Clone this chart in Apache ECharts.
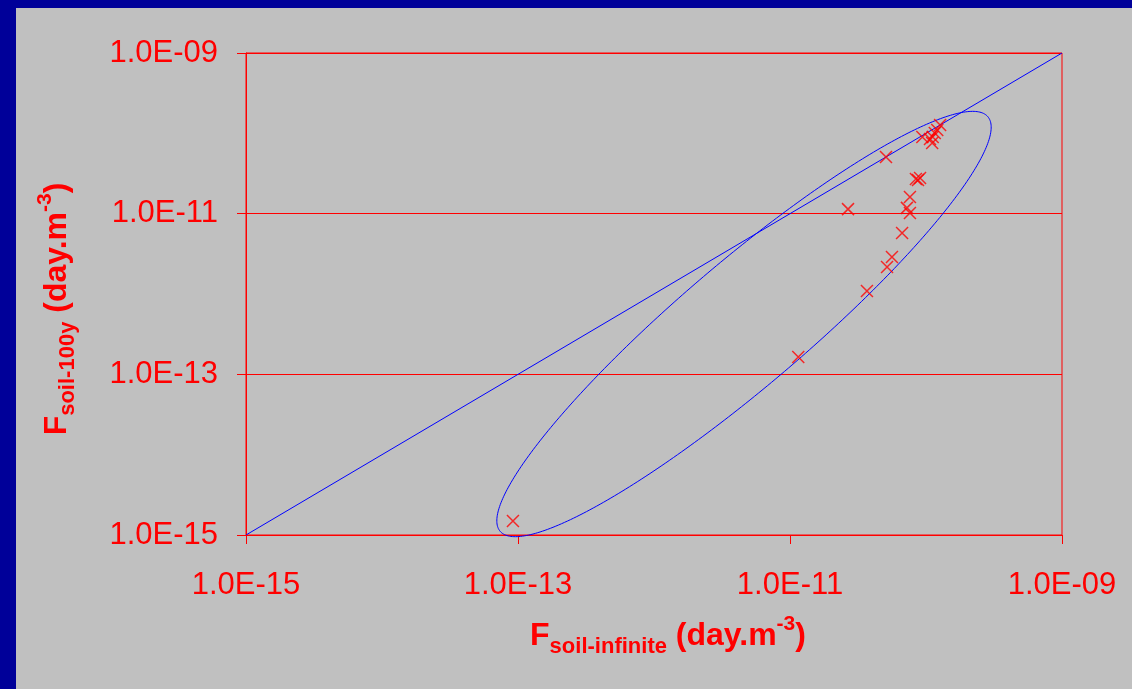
<!DOCTYPE html>
<html>
<head>
<meta charset="utf-8">
<script src="https://cdn.jsdelivr.net/npm/echarts@6/dist/echarts.min.js"></script>
<style>
html,body{margin:0;padding:0;background:#C0C0C0;}
#chart{width:1132px;height:689px;}
</style>
</head>
<body>
<div id="chart"></div>
<script>
// Scatter data: F_soil-infinite (x) vs F_soil-100y (y), day.m^-3
const xValues = [1.27e-10, 1.21e-10, 1.16e-10, 1.12e-10, 1.11e-10, 9.4e-11, 1.07e-10,
                 5.08e-11, 8.73e-11, 9.04e-11, 8.43e-11, 7.62e-11, 7.24e-11, 7.62e-11,
                 2.67e-11, 6.67e-11, 5.62e-11, 5.17e-11, 3.68e-11, 1.15e-11, 9.18e-14];
const yValues = [1.27e-10, 1.10e-10, 1.01e-10, 9.0e-11, 7.6e-11, 9.0e-11, 8.5e-11,
                 5.08e-11, 2.62e-11, 2.78e-11, 2.70e-11, 1.61e-11, 1.18e-11, 1.02e-11,
                 1.14e-11, 5.75e-12, 2.89e-12, 2.17e-12, 1.09e-12, 1.64e-13, 1.49e-15];
// 1:1 reference line
const diagonalX = [1e-15, 1e-9];
const diagonalY = [1e-15, 1e-9];
// Ellipse annotation (data coordinates): centre, end of major semi-axis, end of minor semi-axis
const ellipseCenter = [4.59e-12, 4.23e-13];
const ellipseMajorEnd = [2.85e-10, 1.61e-10];
const ellipseMinorEnd = [9.10e-12, 1.085e-13];
// Axis range and tick labels
const axisMin = 1e-15, axisMax = 1e-9;
const tickLabels = ['1.0E-15', '1.0E-13', '1.0E-11', '1.0E-09'];

const RED = '#FF0000', BLUE = '#0000FF';
const chart = echarts.init(document.getElementById('chart'), null, {renderer: 'canvas'});

function fmt(v) {
  const e = Math.round(Math.log10(v));
  const idx = (e + 15) / 2;
  if (Number.isInteger(idx) && tickLabels[idx]) return tickLabels[idx];
  return '';
}

const axisCommon = {
  type: 'log',
  logBase: 10,
  min: axisMin,
  max: axisMax,
  interval: 2,
  axisLine: {show: true, onZero: false, lineStyle: {color: RED, width: 1}},
  axisTick: {show: true, inside: false, length: 9, lineStyle: {color: RED, width: 1}},
  minorTick: {show: false},
  axisLabel: {color: RED, fontFamily: 'Liberation Sans, Arial, sans-serif', fontSize: 31, formatter: fmt}
};

const scatterData = xValues.map((x, i) => [x, yValues[i]]);
const diagData = diagonalX.map((x, i) => [x, diagonalY[i]]);

const titleFont = 'Liberation Sans, Arial, sans-serif';
const richTitle = {
  a: {fontFamily: titleFont, fontWeight: 'bold', fontSize: 32, fill: RED, lineHeight: 44},
  sub: {fontFamily: titleFont, fontWeight: 'bold', fontSize: 22, fill: RED, lineHeight: 22, verticalAlign: 'bottom'},
  sup: {fontFamily: titleFont, fontWeight: 'bold', fontSize: 21, fill: RED, lineHeight: 20, verticalAlign: 'top'}
};

chart.setOption({
  animation: false,
  backgroundColor: '#C0C0C0',
  grid: {left: 246, top: 53, right: 70, bottom: 154, show: true, borderColor: RED, borderWidth: 1, backgroundColor: 'transparent', containLabel: false},
  xAxis: Object.assign({}, axisCommon, {
    splitLine: {show: false},
    axisLabel: Object.assign({}, axisCommon.axisLabel, {margin: 35})
  }),
  yAxis: Object.assign({}, axisCommon, {
    splitLine: {show: true, lineStyle: {color: RED, width: 1}},
    axisLabel: Object.assign({}, axisCommon.axisLabel, {margin: 28})
  }),
  graphic: [
    {type: 'rect', left: 0, top: 0, shape: {width: 1132, height: 8}, style: {fill: '#000099'}, z: 100},
    {type: 'rect', left: 0, top: 0, shape: {width: 16, height: 689}, style: {fill: '#000099'}, z: 100},
    {type: 'text', x: 668, y: 636, z: 100,
     style: {text: '{a|F}{sub|soil-infinite}{a| (day.m}{sup|-3}{a|)}', rich: richTitle, fill: RED, align: 'center', verticalAlign: 'middle'}},
    {type: 'text', x: 57, y: 309, rotation: Math.PI / 2, z: 100,
     style: {text: '{a|F}{sub|soil-100y}{a| (day.m}{sup|-3}{a|)}', rich: richTitle, fill: RED, align: 'center', verticalAlign: 'middle'}}
  ],
  series: [
    {
      type: 'line', data: diagData, symbol: 'none', silent: true,
      lineStyle: {color: BLUE, width: 1}, z: 2
    },
    {
      type: 'custom', data: [ellipseCenter], silent: true, z: 3,
      renderItem: function (params, api) {
        const c = api.coord(ellipseCenter);
        const m = api.coord(ellipseMajorEnd);
        const n = api.coord(ellipseMinorEnd);
        const ax = m[0] - c[0], ay = m[1] - c[1];
        const bx = n[0] - c[0], by = n[1] - c[1];
        const pts = [];
        for (let k = 0; k < 360; k++) {
          const t = k / 360 * Math.PI * 2;
          pts.push([c[0] + ax * Math.cos(t) + bx * Math.sin(t), c[1] + ay * Math.cos(t) + by * Math.sin(t)]);
        }
        return {type: 'polygon', shape: {points: pts}, style: {fill: 'none', stroke: BLUE, lineWidth: 1}};
      }
    },
    {
      type: 'scatter', data: scatterData, z: 5,
      symbol: 'path://M0 0L10 10M10 0L0 10', symbolSize: 12,
      itemStyle: {color: 'transparent', borderColor: RED, borderWidth: 1.5}
    }
  ]
});
</script>
</body>
</html>
